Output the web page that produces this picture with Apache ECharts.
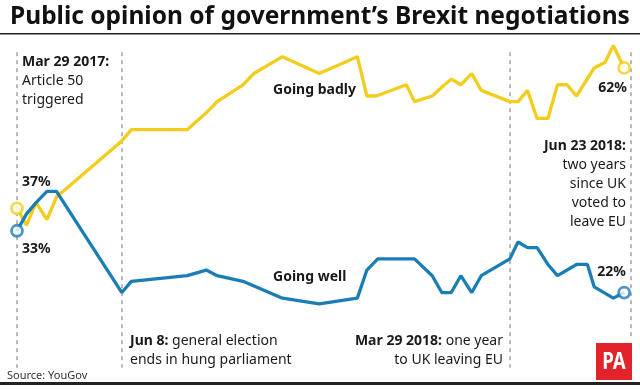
<!DOCTYPE html>
<html>
<head>
<meta charset="utf-8">
<style>
  html, body { margin: 0; padding: 0; background: #ffffff; }
  #chart { width: 640px; height: 389px; }
</style>
<script src="https://cdn.jsdelivr.net/npm/echarts@6/dist/echarts.min.js"></script>
</head>
<body>
<div id="chart"></div>
<script>
// ---- Data ----
const badlyDates = ['2017-03-29','2017-04-05','2017-04-12','2017-04-20','2017-04-27','2017-06-14','2017-06-21','2017-08-01','2017-08-15','2017-08-23','2017-09-11','2017-09-19','2017-10-10','2017-11-06','2017-12-04','2017-12-11','2017-12-18','2018-01-09','2018-01-15','2018-01-28','2018-02-06','2018-02-11','2018-02-18','2018-02-26','2018-03-05','2018-03-26','2018-04-01','2018-04-08','2018-04-15','2018-04-23','2018-04-30','2018-05-07','2018-05-14','2018-05-27','2018-06-04','2018-06-10','2018-06-18'];
const badlyValues = [37, 34, 38, 35, 39, 49, 51, 51, 54, 56, 59, 61, 64, 61, 64, 57, 57, 59, 56, 57, 59, 60, 59, 61, 58, 56, 56, 58, 53, 53, 59, 59, 57, 62, 63, 66, 62];

const wellDates = ['2017-03-29','2017-04-05','2017-04-12','2017-04-20','2017-04-27','2017-06-14','2017-06-21','2017-08-01','2017-08-15','2017-08-23','2017-09-11','2017-10-10','2017-11-06','2017-12-04','2017-12-11','2017-12-19','2018-01-15','2018-01-28','2018-02-04','2018-02-11','2018-02-18','2018-02-26','2018-03-05','2018-03-26','2018-04-01','2018-04-08','2018-04-15','2018-04-23','2018-04-30','2018-05-14','2018-05-22','2018-05-27','2018-06-10','2018-06-18'];
const wellValues = [33, 36, 38, 40, 40, 22, 24, 25, 26, 25, 24, 21, 20, 21, 26, 28, 28, 25, 22, 22, 25, 22, 25, 28, 31, 30, 30, 27, 25, 27, 27, 23, 21, 22];

// event marker lines (as drawn on the timeline)
const eventDates = ['2017-03-29', '2017-06-14', '2018-03-26', '2018-06-23'];

const axisStart = '2017-03-29';
const axisEnd = '2018-06-23';

const YELLOW = '#f2cd1c';
const BLUE = '#1b7db5';
const FONT = '"Noto Sans", "Open Sans", sans-serif';

const zip = (d, v) => d.map((x, i) => [x, v[i]]);
const badly = zip(badlyDates, badlyValues);
const well = zip(wellDates, wellValues);
const ends = arr => [arr[0], arr[arr.length - 1]];

const chart = echarts.init(document.getElementById('chart'), null, { renderer: 'canvas' });

function txt(x, y, text, opts) {
  opts = opts || {};
  return {
    type: 'text', x: x, y: y, z: 100,
    style: {
      text: text,
      fill: opts.color || '#1a1a1a',
      font: (opts.weight || 'normal') + ' ' + (opts.size || 14) + 'px ' + FONT,
      textAlign: opts.align || 'left',
      textVerticalAlign: 'middle',
      lineHeight: opts.lineHeight || 19
    }
  };
}

const markLines = eventDates.map((d, i) => [
  { coord: [d, 64.8] },
  { coord: [d, i === 3 ? 13.9 : 8.6] }
]);

const option = {
  animation: false,
  backgroundColor: '#ffffff',
  grid: { left: 17, right: 9, top: 23, bottom: 1, containLabel: false },
  xAxis: {
    type: 'time', min: axisStart, max: axisEnd,
    axisLine: { show: false }, axisTick: { show: false },
    axisLabel: { show: false }, splitLine: { show: false }
  },
  yAxis: {
    type: 'value', min: 5, max: 70,
    axisLine: { show: false }, axisTick: { show: false },
    axisLabel: { show: false }, splitLine: { show: false }
  },
  series: [
    {
      name: 'Going badly', type: 'line', data: badly, symbol: 'none', clip: false,
      lineStyle: { color: YELLOW, width: 3.3 }, z: 3,
      markLine: {
        silent: true, symbol: 'none', label: { show: false },
        lineStyle: { color: '#a9a9a9', width: 1.6, type: [4, 4] },
        data: markLines, z: 1
      }
    },
    {
      name: 'Going well', type: 'line', data: well, symbol: 'none', clip: false,
      lineStyle: { color: BLUE, width: 3.3 }, z: 4
    },
    {
      type: 'scatter', data: ends(badly), symbol: 'circle', symbolSize: 11, clip: false,
      itemStyle: { color: '#ffffff', borderColor: YELLOW, borderWidth: 2.8 }, z: 6
    },
    {
      type: 'scatter', data: ends(well), symbol: 'circle', symbolSize: 11, clip: false,
      itemStyle: { color: '#ffffff', borderColor: BLUE, borderWidth: 2.8 }, z: 7
    }
  ],
  graphic: [
    // title + rules
    txt(10, 17, 'Public opinion of government\u2019s Brexit negotiations', { weight: 'bold', size: 24.5, color: '#111' }),
    { type: 'rect', shape: { x: 0, y: 33, width: 640, height: 1.6 }, style: { fill: '#222' }, z: 100 },
    { type: 'rect', shape: { x: 0, y: 382, width: 640, height: 3 }, style: { fill: '#222' }, z: 100 },
    txt(7, 375.5, 'Source: YouGov', { size: 11, color: '#333' }),

    // annotations
    {
      type: 'text', x: 22, y: 81, z: 100,
      style: {
        text: '{b|Mar 29 2017:}\nArticle 50\ntriggered',
        font: '14px ' + FONT, fill: '#1a1a1a', textVerticalAlign: 'middle', lineHeight: 19,
        rich: { b: { fontWeight: 'bold', fontSize: 14, fontFamily: FONT, fill: '#1a1a1a' } }
      }
    },
    txt(22, 182, '37%', { weight: 'bold' }),
    txt(22, 249, '33%', { weight: 'bold' }),
    txt(273, 90, 'Going badly', { weight: 'bold' }),
    txt(273, 277, 'Going well', { weight: 'bold' }),
    {
      type: 'text', x: 130, y: 351, z: 100,
      style: {
        text: '{b|Jun 8:} general election\nends in hung parliament',
        font: '14px ' + FONT, fill: '#1a1a1a', textVerticalAlign: 'middle', lineHeight: 19,
        rich: { b: { fontWeight: 'bold', fontSize: 14, fontFamily: FONT, fill: '#1a1a1a' } }
      }
    },
    {
      type: 'text', x: 503, y: 351, z: 100,
      style: {
        text: '{b|Mar 29 2018:} one year\nto UK leaving EU',
        font: '14px ' + FONT, fill: '#1a1a1a', textAlign: 'right', textVerticalAlign: 'middle', lineHeight: 19,
        rich: { b: { fontWeight: 'bold', fontSize: 14, fontFamily: FONT, fill: '#1a1a1a' } }
      }
    },
    txt(627, 88, '62%', { weight: 'bold', align: 'right' }),
    {
      type: 'text', x: 626, y: 184.5, z: 100,
      style: {
        text: '{b|Jun 23 2018:}\ntwo years\nsince UK\nvoted to\nleave EU',
        font: '14px ' + FONT, fill: '#1a1a1a', textAlign: 'right', textVerticalAlign: 'middle', lineHeight: 19,
        rich: { b: { fontWeight: 'bold', fontSize: 14, fontFamily: FONT, fill: '#1a1a1a' } }
      }
    },
    txt(626, 272, '22%', { weight: 'bold', align: 'right' }),

    // PA logo
    { type: 'rect', shape: { x: 596, y: 343, width: 36, height: 37 }, style: { fill: '#e3232c' }, z: 100 },
    {
      type: 'text', x: 614, y: 362, scaleX: 0.78, originX: 0, originY: 0, z: 101,
      style: { text: 'PA', fill: '#ffffff', font: 'bold 24px ' + FONT, textAlign: 'center', textVerticalAlign: 'middle' }
    }
  ]
};

chart.setOption(option);
</script>
</body>
</html>
